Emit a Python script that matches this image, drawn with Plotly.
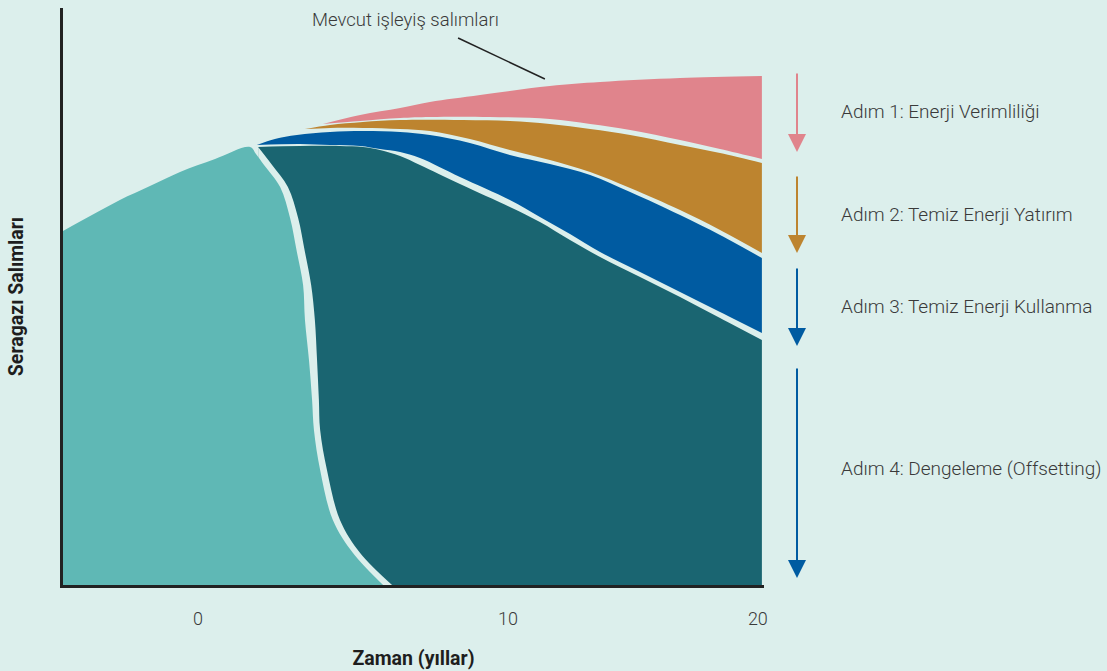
import plotly.graph_objects as go

# ---------------- data (x: years, y: emission index) ----------------
lt_top_x = [-4.36, -3.48, -2.52, -1.55, -0.58, 0.55, 1.68]
lt_top_y = [354, 369, 385, 399, 413, 426, 438]
lt_edge_x = [1.68, 1.87, 2.13, 2.65, 2.97, 3.19, 3.39, 3.45, 3.58, 3.68, 3.74, 3.94, 4.35, 5.00, 5.97]
lt_edge_y = [438, 431, 420, 398, 367, 333, 300, 265, 225, 185, 155, 115, 65, 32, 0]

dt_edge_x = [1.94, 2.39, 2.90, 3.23, 3.45, 3.65, 3.77, 3.84, 3.90, 3.94, 4.16, 4.58, 5.23, 6.26]
dt_edge_y = [438, 420, 398, 367, 333, 300, 265, 225, 185, 155, 115, 65, 32, 0]
dt_top_x = [1.94, 3.29, 4.58, 5.32, 5.87, 6.52, 7.16, 8.45, 10.06, 11.03, 12.00, 12.97, 14.26, 15.55, 16.84, 18.19]
dt_top_y = [438, 439, 439, 438, 435, 429, 420, 401, 378, 363, 345, 328, 308, 288, 267, 245]

bl_bot_x = [1.90, 3.29, 4.26, 5.23, 5.87, 6.52, 7.16, 8.45, 10.06, 11.03, 12.00, 12.97, 14.26, 15.55, 16.84, 18.19]
bl_bot_y = [440, 441, 440, 439, 436, 433, 427, 408, 385, 368, 351, 333, 313, 293, 273, 252]
bl_top_x = [1.90, 2.48, 3.19, 4.26, 5.32, 6.52, 7.48, 8.77, 10.06, 11.35, 12.65, 13.94, 15.55, 16.84, 18.19]
bl_top_y = [440, 446, 450, 453, 454, 453, 450, 442, 430, 421, 410, 393, 370, 350, 327]

or_bot_x = [3.45, 4.26, 5.32, 6.52, 7.48, 8.77, 10.06, 11.35, 12.65, 13.94, 15.55, 16.84, 18.19]
or_bot_y = [456, 457, 457, 456, 454, 446, 435, 425, 413, 397, 375, 355, 332]
or_top_x = [3.45, 4.26, 5.32, 6.52, 8.55, 10.06, 11.35, 12.65, 13.94, 15.55, 16.84, 18.19]
or_top_y = [456, 460, 463, 465, 465, 464, 461, 456, 450, 440, 432, 422]

pk_bot_x = [4.03, 5.23, 6.52, 7.48, 9.42, 11.35, 12.65, 13.94, 15.55, 16.84, 18.19]
pk_bot_y = [461, 464, 467, 468, 468, 466, 461, 455, 445, 436, 426]
pk_top_x = [4.03, 5.23, 6.52, 7.48, 9.10, 11.35, 12.97, 15.55, 18.19]
pk_top_y = [461, 470, 477, 483, 490, 499, 503, 507, 509]

tick_years = [0, 10, 18.06]
tick_labels = ["0", "10", "20"]

step_labels = ["Adım 1: Enerji Verimliliği", "Adım 2: Temiz Enerji Yatırım",
               "Adım 3: Temiz Enerji Kullanma", "Adım 4: Dengeleme (Offsetting)"]
step_label_y = [474, 371, 279, 117]
step_arrow_top = [513, 410, 318, 218]
step_arrow_tip = [433, 332, 239, 7]

# ---------------- style ----------------
BG = "#dcefec"
C_LT = "#5fb8b5"
C_DT = "#1a6571"
C_BL = "#005ba1"
C_OR = "#bd842f"
C_PK = "#e0848c"
step_colors = [C_PK, C_OR, C_BL, C_BL]
FONT = "Roboto, sans-serif"
TXT = "#3a3a3a"

fig = go.Figure()

def curve(xs, ys, fill=None, color=None):
    fig.add_trace(go.Scatter(x=xs, y=ys, mode="lines", fill=fill, fillcolor=color,
                             line=dict(width=0, shape="spline", smoothing=1.0, color=color or BG),
                             hoverinfo="skip", showlegend=False))

# dark teal: area under its top, then erase left of its edge with background
curve(dt_top_x, dt_top_y, "tozeroy", C_DT)
curve(dt_edge_x, dt_edge_y, "tozeroy", BG)
# light teal (outer top + right edge as one outline)
curve(lt_top_x + lt_edge_x[1:], lt_top_y + lt_edge_y[1:], "tozeroy", C_LT)
# blue / orange / pink bands
for bx, by, tx, ty, col in [(bl_bot_x, bl_bot_y, bl_top_x, bl_top_y, C_BL),
                            (or_bot_x, or_bot_y, or_top_x, or_top_y, C_OR),
                            (pk_bot_x, pk_bot_y, pk_top_x, pk_top_y, C_PK)]:
    curve(bx, by)
    curve(tx, ty, "tonexty", col)

L, R, T, B = 63, 343, 8, 86
W, H = 1107, 671
pw = W - L - R

def px_to_paper(px):
    return (px - L) / pw

annotations = []
annotations.append(dict(x=6.68, y=565, xref="x", yref="y", text="Mevcut işleyiş salımları",
                        showarrow=False, font=dict(family=FONT, size=18.5, color=TXT, weight=300)))
for lab, ly, at, tip, col in zip(step_labels, step_label_y, step_arrow_top, step_arrow_tip, step_colors):
    annotations.append(dict(x=px_to_paper(839), y=ly, xref="paper", yref="y", text=lab,
                            xanchor="left", yanchor="middle", showarrow=False,
                            font=dict(family=FONT, size=19, color=TXT, weight=300)))
    annotations.append(dict(x=px_to_paper(797), y=tip, xref="paper", yref="y",
                            ax=0, ay=at, axref="pixel", ayref="y", text="", showarrow=True,
                            arrowhead=2, arrowsize=1.8, arrowwidth=2, arrowcolor=col))

fig.update_layout(
    width=W, height=H, autosize=False,
    margin=dict(l=L, r=R, t=T, b=B, autoexpand=False),
    paper_bgcolor=BG, plot_bgcolor=BG,
    showlegend=False,
    annotations=annotations,
    shapes=[dict(type="line", xref="x", yref="y", x0=8.39, y0=547, x1=11.19, y1=506,
                 line=dict(color="#222222", width=1.5))],
    xaxis=dict(range=[-4.355, 18.258], showline=True, linewidth=3, linecolor="#222222",
               automargin=False,
               showgrid=False, zeroline=False, ticks="", tickvals=tick_years, ticktext=tick_labels,
               tickfont=dict(family=FONT, size=18, color=TXT, weight=300), ticklabelstandoff=15,
               title=dict(text="<b>Zaman (yıllar)</b>", standoff=24,
                          font=dict(family=FONT, size=19.5, color="#1e1e1e"))),
    yaxis=dict(range=[0, 577], showline=True, linewidth=3, linecolor="#222222",
               automargin=False,
               showgrid=False, zeroline=False, ticks="", showticklabels=False,
               title=dict(text="<b>Seragazı Salımları</b>", standoff=32,
                          font=dict(family=FONT, size=19.5, color="#1e1e1e"))),
)

fig.write_html("out.html", config={"displayModeBar": False},
               post_script="document.body.style.margin='0';document.body.style.background='%s';" % BG)
